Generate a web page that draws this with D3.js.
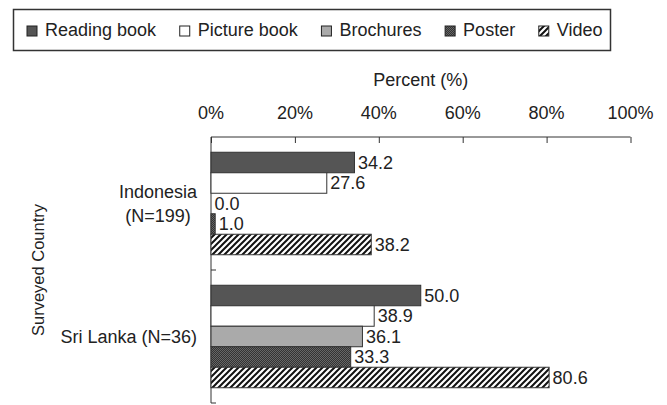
<!DOCTYPE html>
<html><head><meta charset="utf-8">
<script src="https://cdn.jsdelivr.net/npm/d3@7"></script>
<style>
body{margin:0;background:#fff;}
text{font-family:"Liberation Sans",Arial,sans-serif;fill:#222;}
</style></head>
<body><svg id="c" width="667" height="405"></svg>
<script>
const categories = ["Indonesia\n(N=199)", "Sri Lanka (N=36)"];
const series = ["Reading book", "Picture book", "Brochures", "Poster", "Video"];
const readingBook = [34.2, 50.0];
const pictureBook = [27.6, 38.9];
const brochures = [0.0, 36.1];
const poster = [1.0, 33.3];
const video = [38.2, 80.6];
const xTicks = [0, 20, 40, 60, 80, 100];
const xTitle = "Percent (%)";
const yTitle = "Surveyed Country";

const values = [readingBook, pictureBook, brochures, poster, video];
const FS = "18px";
const svg = d3.select("#c");
const defs = svg.append("defs");
// poster texture
const pp = defs.append("pattern").attr("id","pPoster").attr("patternUnits","userSpaceOnUse").attr("width",2).attr("height",2);
pp.append("rect").attr("width",2).attr("height",2).attr("fill","#333");
pp.append("rect").attr("width",1).attr("height",1).attr("fill","#666");
pp.append("rect").attr("x",1).attr("y",1).attr("width",1).attr("height",1).attr("fill","#666");
// video hatch
const ph = defs.append("pattern").attr("id","pVideo").attr("patternUnits","userSpaceOnUse").attr("width",6).attr("height",6);
ph.append("rect").attr("width",6).attr("height",6).attr("fill","#fff");
ph.append("path").attr("d","M-1,7 L7,-1 M-4,4 L4,-4 M2,10 L10,2").attr("stroke","#111").attr("stroke-width",2);
const fills = ["#555555", "#ffffff", "#aaaaaa", "url(#pPoster)", "url(#pVideo)"];

const x = d3.scaleLinear().domain([0,100]).range([211, 630.5]);
const y = d3.scaleBand().domain(categories).range([137, 403]).paddingInner(0).paddingOuter(0);
const y1 = d3.scaleBand().domain(series).range([0, y.bandwidth()]).paddingInner(0).paddingOuter(0.744);

// top axis
const gx = svg.append("g").attr("transform","translate(0,137)")
  .call(d3.axisBottom(x).tickValues(xTicks).tickSize(6).tickFormat(""));
gx.select(".domain").attr("stroke","#333").attr("d","M211,0H630.5");
gx.selectAll(".tick line").attr("stroke","#333");
svg.append("g").selectAll("text").data(xTicks).join("text")
  .attr("x", d=>x(d)).attr("y",118.5).attr("text-anchor","middle")
  .style("font-size",FS).text(d=>d+"%");
svg.append("text").attr("x",(x(0)+x(100))/2).attr("y",86).attr("text-anchor","middle")
  .style("font-size",FS).text(xTitle);

// left axis
const gy = svg.append("g").attr("transform","translate(211,0)");
gy.append("line").attr("x1",0).attr("x2",0).attr("y1",137).attr("y2",403).attr("stroke","#333");
gy.selectAll("line.t").data(categories).join("line").attr("class","t")
  .attr("x1",0).attr("x2",5).attr("y1",d=>y(d)+y.bandwidth()).attr("y2",d=>y(d)+y.bandwidth()).attr("stroke","#333");

// bars
const groups = svg.append("g").selectAll("g").data(categories).join("g")
  .attr("transform", d=>`translate(0,${y(d)})`);
groups.each(function(cat, ci){
  const g = d3.select(this);
  series.forEach((s, si)=>{
    const v = values[si][ci];
    if (v > 0) {
      g.append("rect").attr("x", x(0)).attr("y", y1(s)).attr("width", x(v)-x(0)).attr("height", y1.bandwidth())
        .attr("fill", fills[si]).attr("stroke","#333").attr("stroke-width",1);
    }
    g.append("text").attr("x", x(v)+3.5).attr("y", y1(s)+y1.bandwidth()/2).attr("dy","0.36em")
      .style("font-size",FS).text(v.toFixed(1));
  });
  // category label
  const lines = cat.split("\n");
  const cx = 197, lh = 24;
  const tg = g.append("g");
  const ts = lines.map((l,i)=> tg.append("text").attr("y", y.bandwidth()/2 + (i-(lines.length-1)/2)*lh).attr("dy","0.36em")
      .style("font-size",FS).attr("text-anchor","middle").text(l));
  const w = d3.max(ts, t=>t.node().getComputedTextLength());
  ts.forEach(t=>t.attr("x", cx - w/2));
});

svg.append("text").attr("transform",`translate(43.5,${(137+403)/2}) rotate(-90)`).attr("text-anchor","middle")
  .style("font-size","16.5px").text(yTitle);

// legend
const lg = svg.append("g");
const boxL = 13.5, boxR = 610.5;
lg.append("rect").attr("x",boxL).attr("y",9.5).attr("width",boxR-boxL).attr("height",41).attr("fill","none").attr("stroke","#333").attr("stroke-width",1.5);
const items = series.map((s,i)=>{
  const sq = lg.append("rect").attr("y",26).attr("width",10).attr("height",10).attr("fill",fills[i]).attr("stroke","#222");
  const t = lg.append("text").attr("y",36).style("font-size",FS).text(s);
  return {sq, t, w: t.node().getComputedTextLength()};
});
const startX = 27, endX = boxR - 8;
const totalW = d3.sum(items, d=>18 + d.w);
const gap = (endX - startX - totalW) / (items.length - 1);
let lx = startX;
items.forEach(d=>{
  d.sq.attr("x", lx);
  d.t.attr("x", lx + 18);
  lx += 18 + d.w + gap;
});
</script></body></html>
